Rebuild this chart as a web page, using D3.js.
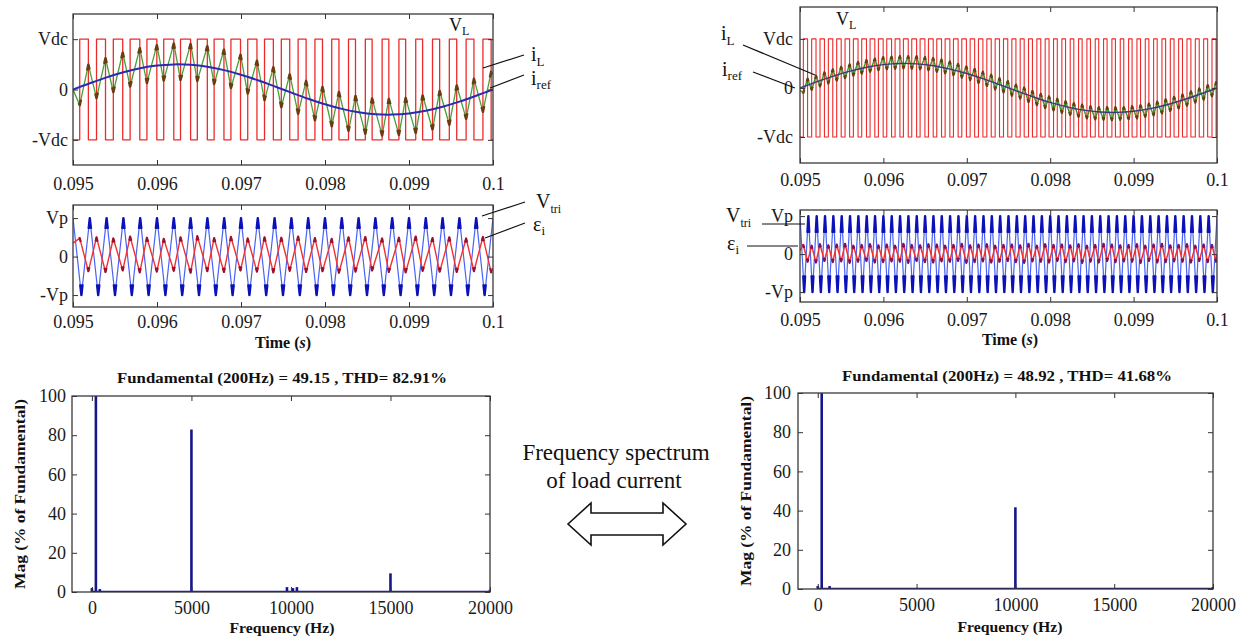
<!DOCTYPE html>
<html><head><meta charset="utf-8">
<script src="https://cdn.jsdelivr.net/npm/d3@7"></script>
<style>
body{margin:0;background:#fff;}
svg{display:block;}
</style></head><body>
<svg id="fig" width="1254" height="639"></svg>
<script>
// ---------------- data ----------------
const timeTicks=[0.095,0.096,0.097,0.098,0.099,0.1];
const timeTickLabels=["0.095","0.096","0.097","0.098","0.099","0.1"];
const vdcTicks=[1,0,-1];
const vdcTickLabels=["Vdc","0","-Vdc"];
const vpTicks=[1,0,-1];
const vpTickLabels=["Vp","0","-Vp"];
const freqTicks=[0,5000,10000,15000,20000];
const freqTickLabels=["0","5000","10000","15000","20000"];
const magTicks=[0,20,40,60,80,100];
const magTickLabels=["0","20","40","60","80","100"];
const vdcLevels=[-1,1];

const irefSamples=[[0.0950,0],[0.0952,0.124],[0.0954,0.241],[0.0956,0.342],[0.0958,0.422],[0.0960,0.476],[0.0962,0.499],[0.0964,0.491],[0.0966,0.453],[0.0968,0.385],[0.0970,0.294],[0.0972,0.184],[0.0974,0.063],[0.0976,-0.063],[0.0978,-0.184],[0.0980,-0.294],[0.0982,-0.385],[0.0984,-0.453],[0.0986,-0.491],[0.0988,-0.499],[0.0990,-0.476],[0.0992,-0.422],[0.0994,-0.342],[0.0996,-0.241],[0.0998,-0.124],[0.1000,0]];

const vLLeftRise=[0.09508,0.09528,0.09548,0.09568,0.09588,0.09608,0.09628,0.09648,0.09668,0.09688,0.09708,0.09728,0.09748,0.09768,0.09788,0.09808,0.09828,0.09848,0.09868,0.09888,0.09908,0.09928,0.09948,0.09968,0.09988];
const vLLeftFall=[0.095183,0.095387,0.095592,0.095795,0.095998,0.096200,0.096400,0.096599,0.096797,0.096994,0.097190,0.097385,0.097580,0.097775,0.097970,0.098166,0.098363,0.098561,0.098760,0.098960,0.099162,0.099365,0.099568,0.099773,0.099978];
const iLLeftLow=[-0.31,-0.17,-0.05,0.06,0.13,0.18,0.19,0.17,0.11,0.03,-0.08,-0.21,-0.35,-0.48,-0.61,-0.73,-0.82,-0.88,-0.91,-0.90,-0.86,-0.79,-0.70,-0.58,-0.44];
const iLLeftHigh=[0.49,0.62,0.73,0.82,0.88,0.91,0.90,0.86,0.79,0.69,0.57,0.44,0.30,0.17,0.05,-0.05,-0.13,-0.18,-0.19,-0.17,-0.12,-0.03,0.08,0.21,0.35];
const iLLeftEnds=[0.0,0.30];
const vtriLeft=[[0.0950,1],[0.0951,-1],[0.0952,1],[0.0953,-1],[0.0954,1],[0.0955,-1],[0.0956,1],[0.0957,-1],[0.0958,1],[0.0959,-1],
[0.0960,1],[0.0961,-1],[0.0962,1],[0.0963,-1],[0.0964,1],[0.0965,-1],[0.0966,1],[0.0967,-1],[0.0968,1],[0.0969,-1],
[0.0970,1],[0.0971,-1],[0.0972,1],[0.0973,-1],[0.0974,1],[0.0975,-1],[0.0976,1],[0.0977,-1],[0.0978,1],[0.0979,-1],
[0.0980,1],[0.0981,-1],[0.0982,1],[0.0983,-1],[0.0984,1],[0.0985,-1],[0.0986,1],[0.0987,-1],[0.0988,1],[0.0989,-1],
[0.0990,1],[0.0991,-1],[0.0992,1],[0.0993,-1],[0.0994,1],[0.0995,-1],[0.0996,1],[0.0997,-1],[0.0998,1],[0.0999,-1],[0.1000,1]];
const epsLeftPeak=[0.48,0.50,0.47,0.52,0.49,0.46,0.50,0.53,0.48,0.51,0.47,0.50,0.49,0.52,0.48,0.46,0.50,0.51,0.47,0.49,0.52,0.48,0.50,0.47,0.51];
const epsLeftTrough=[-0.38,-0.40,-0.36,-0.41,-0.39,-0.37,-0.42,-0.38,-0.40,-0.36,-0.39,-0.41,-0.37,-0.40,-0.38,-0.42,-0.39,-0.36,-0.40,-0.41,-0.37,-0.39,-0.40,-0.38,-0.41];
const epsLeftEnds=[0.35,-0.30];

const vLRightRise=[0.09504,0.09514,0.09524,0.09534,0.09544,0.09554,0.09564,0.09574,0.09584,0.09594,
0.09604,0.09614,0.09624,0.09634,0.09644,0.09654,0.09664,0.09674,0.09684,0.09694,
0.09704,0.09714,0.09724,0.09734,0.09744,0.09754,0.09764,0.09774,0.09784,0.09794,
0.09804,0.09814,0.09824,0.09834,0.09844,0.09854,0.09864,0.09874,0.09884,0.09894,
0.09904,0.09914,0.09924,0.09934,0.09944,0.09954,0.09964,0.09974,0.09984,0.09994];
const vLRightFall=[0.095091,0.095192,0.095293,0.095393,0.095494,0.095595,0.095696,0.095797,0.095897,0.095997,
0.096098,0.096198,0.096298,0.096398,0.096498,0.096597,0.096697,0.096797,0.096896,0.096995,
0.097094,0.097193,0.097293,0.097392,0.097491,0.097589,0.097688,0.097787,0.097887,0.097986,
0.098085,0.098184,0.098283,0.098383,0.098483,0.098582,0.098682,0.098782,0.098882,0.098982,
0.099083,0.099183,0.099283,0.099384,0.099485,0.099586,0.099687,0.099787,0.099888,0.099989];
const iLRightLow=[-0.10,-0.04,0.03,0.09,0.15,0.20,0.25,0.29,0.33,0.36,0.38,0.39,0.40,0.39,0.38,0.36,0.33,0.30,0.26,0.21,0.16,0.10,0.04,-0.03,-0.09,-0.16,-0.22,-0.29,-0.35,-0.41,-0.46,-0.51,-0.55,-0.59,-0.62,-0.64,-0.65,-0.66,-0.65,-0.64,-0.62,-0.59,-0.56,-0.52,-0.47,-0.42,-0.36,-0.30,-0.24,-0.17];
const iLRightHigh=[0.19,0.25,0.32,0.38,0.43,0.48,0.53,0.57,0.60,0.63,0.64,0.65,0.65,0.65,0.63,0.61,0.58,0.54,0.49,0.44,0.39,0.33,0.27,0.20,0.14,0.07,0.01,-0.06,-0.12,-0.17,-0.22,-0.27,-0.31,-0.34,-0.37,-0.39,-0.39,-0.39,-0.39,-0.37,-0.35,-0.32,-0.28,-0.23,-0.18,-0.13,-0.07,-0.01,0.06,0.12];
const iLRightEnds=[-0.05,0.10];
const vtriRight=[[0.09500,1],[0.09505,-1],[0.09510,1],[0.09515,-1],[0.09520,1],[0.09525,-1],[0.09530,1],[0.09535,-1],[0.09540,1],[0.09545,-1],
[0.09550,1],[0.09555,-1],[0.09560,1],[0.09565,-1],[0.09570,1],[0.09575,-1],[0.09580,1],[0.09585,-1],[0.09590,1],[0.09595,-1],
[0.09600,1],[0.09605,-1],[0.09610,1],[0.09615,-1],[0.09620,1],[0.09625,-1],[0.09630,1],[0.09635,-1],[0.09640,1],[0.09645,-1],
[0.09650,1],[0.09655,-1],[0.09660,1],[0.09665,-1],[0.09670,1],[0.09675,-1],[0.09680,1],[0.09685,-1],[0.09690,1],[0.09695,-1],
[0.09700,1],[0.09705,-1],[0.09710,1],[0.09715,-1],[0.09720,1],[0.09725,-1],[0.09730,1],[0.09735,-1],[0.09740,1],[0.09745,-1],
[0.09750,1],[0.09755,-1],[0.09760,1],[0.09765,-1],[0.09770,1],[0.09775,-1],[0.09780,1],[0.09785,-1],[0.09790,1],[0.09795,-1],
[0.09800,1],[0.09805,-1],[0.09810,1],[0.09815,-1],[0.09820,1],[0.09825,-1],[0.09830,1],[0.09835,-1],[0.09840,1],[0.09845,-1],
[0.09850,1],[0.09855,-1],[0.09860,1],[0.09865,-1],[0.09870,1],[0.09875,-1],[0.09880,1],[0.09885,-1],[0.09890,1],[0.09895,-1],
[0.09900,1],[0.09905,-1],[0.09910,1],[0.09915,-1],[0.09920,1],[0.09925,-1],[0.09930,1],[0.09935,-1],[0.09940,1],[0.09945,-1],
[0.09950,1],[0.09955,-1],[0.09960,1],[0.09965,-1],[0.09970,1],[0.09975,-1],[0.09980,1],[0.09985,-1],[0.09990,1],[0.09995,-1],[0.10000,1]];
const epsRightPeak=[0.24,0.22,0.26,0.23,0.25,0.27,0.22,0.24,0.26,0.23,0.25,0.22,0.27,0.24,0.23,0.26,0.25,0.22,0.24,0.27,0.23,0.25,0.26,0.22,0.24,0.25,0.23,0.27,0.22,0.26,0.24,0.25,0.23,0.26,0.22,0.24,0.27,0.25,0.23,0.24,0.26,0.22,0.25,0.27,0.23,0.24,0.26,0.22,0.25,0.24];
const epsRightTrough=[-0.20,-0.22,-0.18,-0.21,-0.19,-0.23,-0.20,-0.18,-0.22,-0.21,-0.19,-0.20,-0.23,-0.18,-0.21,-0.22,-0.19,-0.20,-0.18,-0.23,-0.21,-0.19,-0.22,-0.20,-0.18,-0.21,-0.23,-0.19,-0.20,-0.22,-0.18,-0.21,-0.19,-0.23,-0.20,-0.22,-0.18,-0.21,-0.19,-0.20,-0.23,-0.18,-0.22,-0.21,-0.19,-0.20,-0.22,-0.18,-0.21,-0.20];
const epsRightEnds=[0.10,0.0];

const specLeftFreq=[0,200,400,5000,9800,10100,10300,15000,20000];
const specLeftMag=[2,100,1.5,82.91,2.5,2,2.5,9.5,1.2];
const specRightFreq=[0,200,600,10000,20000];
const specRightMag=[1.5,100,1.5,41.68,1];
const titleLeft="Fundamental (200Hz) = 49.15 , THD= 82.91%";
const titleRight="Fundamental (200Hz) = 48.92 , THD= 41.68%";

// ---------------- drawing ----------------
const serif="Liberation Serif";
const svg=d3.select("#fig");
svg.append("rect").attr("width",1254).attr("height",639).attr("fill","#fff");
let clipN=0;
function panel(o){
  const x=d3.scaleLinear().domain(o.xDomain).range([o.x0,o.x1]);
  const y=d3.scaleLinear().domain(o.yDomain).range([o.y1,o.y0]);
  const id="clip"+(clipN++);
  svg.append("clipPath").attr("id",id).append("rect")
    .attr("x",o.x0).attr("y",o.y0).attr("width",o.x1-o.x0).attr("height",o.y1-o.y0);
  const g=svg.append("g");
  const plot=g.append("g").attr("clip-path",`url(#${id})`);
  return {o,x,y,g,plot};
}
function axes(p){
  const {o,x,y,g}=p;
  const ax=g.append("g");
  ax.append("g").attr("transform",`translate(0,${o.y1})`)
    .call(d3.axisBottom(x).tickValues(o.xTicks).tickFormat((d,i)=>o.xLabels[i]).tickSizeInner(-5).tickSizeOuter(0).tickPadding(o.xPad));
  ax.append("g").attr("transform",`translate(0,${o.y0})`)
    .call(d3.axisTop(x).tickValues(o.xTicks).tickFormat(()=>"").tickSizeInner(-5).tickSizeOuter(0));
  ax.append("g").attr("transform",`translate(${o.x0},0)`)
    .call(d3.axisLeft(y).tickValues(o.yTicks).tickFormat((d,i)=>o.yLabels[i]).tickSizeInner(-5).tickSizeOuter(0).tickPadding(o.yPad));
  ax.append("g").attr("transform",`translate(${o.x1},0)`)
    .call(d3.axisRight(y).tickValues(o.yTicks).tickFormat(()=>"").tickSizeInner(-5).tickSizeOuter(0));
  ax.selectAll(".domain").remove();
  ax.selectAll("g").attr("font-family",serif);
  ax.selectAll(".tick line").attr("stroke","#333").attr("stroke-width",1);
  ax.selectAll("text").attr("font-family",serif).attr("font-size",o.tickSize||18).attr("fill","#1a1a1a");
  g.append("rect").attr("x",o.x0).attr("y",o.y0).attr("width",o.x1-o.x0).attr("height",o.y1-o.y0)
    .attr("fill","none").attr("stroke","#3a3a3a").attr("stroke-width",1.3);
}
const lineOf=p=>d3.line().x(d=>p.x(d[0])).y(d=>p.y(d[1]));
function pwmPoints(rise,fall,t0,t1){
  const pts=[[t0,vdcLevels[0]]];
  rise.forEach((r,i)=>pts.push([r,vdcLevels[0]],[r,vdcLevels[1]],[fall[i],vdcLevels[1]],[fall[i],vdcLevels[0]]));
  pts.push([t1,vdcLevels[0]]);
  return pts;
}
function ripplePoints(rise,fall,atRise,atFall,ends,t0,t1){
  const pts=[[t0,ends[0]]];
  rise.forEach((r,i)=>pts.push([r,atRise[i]],[fall[i],atFall[i]]));
  pts.push([t1,ends[1]]);
  return pts;
}
function drawPath(p,pts,color,w){
  p.plot.append("path").datum(pts).attr("d",lineOf(p)).attr("fill","none")
    .attr("stroke",color).attr("stroke-width",w).attr("stroke-linejoin","round");
}
function vertexMarks(p,pts,frac,color,w){
  const segs=[];
  for(let i=1;i<pts.length-1;i++){
    const [t,v]=pts[i],[tp,vp]=pts[i-1],[tn,vn]=pts[i+1];
    segs.push([[t+(tp-t)*frac,v+(vp-v)*frac],[t,v],[t+(tn-t)*frac,v+(vn-v)*frac]]);
  }
  p.plot.selectAll(null).data(segs).join("path").attr("d",lineOf(p)).attr("fill","none")
    .attr("stroke",color).attr("stroke-width",w).attr("stroke-linejoin","round");
}
function label(x,y,main,sub,size,subSize,dy){
  const t=svg.append("text").attr("x",x).attr("y",y).attr("font-family",serif).attr("font-size",size).attr("fill","#111");
  t.append("tspan").text(main);
  t.append("tspan").attr("font-size",subSize).attr("dy",dy).text(sub);
}
function leader(x1,y1,x2,y2){
  svg.append("line").attr("x1",x1).attr("y1",y1).attr("x2",x2).attr("y2",y2).attr("stroke","#111").attr("stroke-width",1.2);
}
function textAt(x,y,s,size,weight,len,rot){
  const t=svg.append("text").attr("font-family",serif).attr("font-size",size).attr("font-weight",weight||"normal")
    .attr("text-anchor","middle").attr("fill","#111").text(s);
  if(rot){t.attr("transform",`translate(${x},${y}) rotate(-90)`);} else {t.attr("x",x).attr("y",y);}
  if(len){t.attr("textLength",len).attr("lengthAdjust","spacingAndGlyphs");}
  return t;
}

// ---- top-left ----
{
  const p=panel({x0:73,x1:493,y0:14,y1:165,xDomain:[0.095,0.1],yDomain:[-1.5,1.5],
    xTicks:timeTicks,xLabels:timeTickLabels,yTicks:vdcTicks,yLabels:vdcTickLabels,xPad:12,yPad:5});
  drawPath(p,pwmPoints(vLLeftRise,vLLeftFall,0.095,0.1),"#ee2b2b",1.3);
  const il=ripplePoints(vLLeftRise,vLLeftFall,iLLeftLow,iLLeftHigh,iLLeftEnds,0.095,0.1);
  drawPath(p,il,"#48a03a",1.3);
  vertexMarks(p,il,0.14,"#6b3c10",2.6);
  p.plot.append("path").datum(irefSamples).attr("d",lineOf(p).curve(d3.curveCatmullRom)).attr("fill","none")
    .attr("stroke","#2a2ab5").attr("stroke-width",2);
  axes(p);
}
// ---- middle-left ----
{
  const p=panel({x0:73,x1:493,y0:205,y1:307,xDomain:[0.095,0.1],yDomain:[-1.31,1.34],
    xTicks:timeTicks,xLabels:timeTickLabels,yTicks:vpTicks,yLabels:vpTickLabels,xPad:8,yPad:5});
  drawPath(p,vtriLeft,"#4a63f5",1.2);
  vertexMarks(p,vtriLeft,0.14,"#0c10b8",2.4);
  const ep=ripplePoints(vLLeftRise,vLLeftFall,epsLeftPeak,epsLeftTrough,epsLeftEnds,0.095,0.1);
  drawPath(p,ep,"#f23030",1.4);
  vertexMarks(p,ep,0.12,"#9a1030",2.2);
  axes(p);
}
// ---- top-right ----
{
  const p=panel({x0:800,x1:1217,y0:7,y1:163,xDomain:[0.095,0.1],yDomain:[-1.53,1.65],
    xTicks:timeTicks,xLabels:timeTickLabels,yTicks:vdcTicks,yLabels:vdcTickLabels,xPad:10,yPad:7});
  drawPath(p,pwmPoints(vLRightRise,vLRightFall,0.095,0.1),"#ee2b2b",1.1);
  const il=ripplePoints(vLRightRise,vLRightFall,iLRightLow,iLRightHigh,iLRightEnds,0.095,0.1);
  drawPath(p,il,"#3e9a30",1.5);
  vertexMarks(p,il,0.22,"#6b3c10",2.2);
  p.plot.append("path").datum(irefSamples).attr("d",lineOf(p).curve(d3.curveCatmullRom)).attr("fill","none")
    .attr("stroke","#3a3a7a").attr("stroke-width",1.4);
  axes(p);
}
// ---- middle-right ----
{
  const p=panel({x0:800,x1:1217,y0:210,y1:302,xDomain:[0.095,0.1],yDomain:[-1.26,1.16],
    xTicks:timeTicks,xLabels:timeTickLabels,yTicks:vpTicks,yLabels:vpTickLabels,xPad:11,yPad:7});
  drawPath(p,vtriRight,"#4a63f5",1.2);
  vertexMarks(p,vtriRight,0.22,"#0c10b8",2.4);
  const ep=ripplePoints(vLRightRise,vLRightFall,epsRightPeak,epsRightTrough,epsRightEnds,0.095,0.1);
  drawPath(p,ep,"#f23030",1.5);
  vertexMarks(p,ep,0.18,"#7a1060",2.2);
  axes(p);
}
// ---- spectra ----
function spectrum(o,freqs,mags){
  const p=panel(o);
  p.plot.append("line").attr("x1",p.x(0)).attr("x2",p.x(20000)).attr("y1",p.y(0)).attr("y2",p.y(0))
    .attr("stroke","#16168c").attr("stroke-width",2.5);
  p.plot.selectAll(null).data(freqs.map((f,i)=>[f,mags[i]])).join("line")
    .attr("x1",d=>p.x(d[0])).attr("x2",d=>p.x(d[0])).attr("y1",p.y(0)).attr("y2",d=>p.y(d[1]))
    .attr("stroke","#16168c").attr("stroke-width",2.6);
  axes(p);
  return p;
}
spectrum({x0:72,x1:490,y0:396,y1:592,xDomain:[-1000,20000],yDomain:[0,100],
  xTicks:freqTicks,xLabels:freqTickLabels,yTicks:magTicks,yLabels:magTickLabels,xPad:9,yPad:6},specLeftFreq,specLeftMag);
spectrum({x0:798,x1:1213,y0:393,y1:589,xDomain:[-1000,20000],yDomain:[0,100],
  xTicks:freqTicks,xLabels:freqTickLabels,yTicks:magTicks,yLabels:magTickLabels,xPad:9,yPad:7},specRightFreq,specRightMag);

// ---- titles and axis labels ----
textAt(282,383,titleLeft,15,"bold",330);
textAt(1007,381,titleRight,15,"bold",330);
textAt(20,494,"Mag (% of Fundamental)",15,"bold",190,true).attr("dy","0.35em");
textAt(746,491,"Mag (% of Fundamental)",15,"bold",190,true).attr("dy","0.35em");
textAt(282,633,"Frequency (Hz)",15,"bold",105);
textAt(1010,632,"Frequency (Hz)",15,"bold",105);
{
  const t1=svg.append("text").attr("x",283).attr("y",348).attr("text-anchor","middle").attr("font-family",serif).attr("font-size",16).attr("font-weight","bold").attr("fill","#111");
  t1.append("tspan").text("Time (");t1.append("tspan").attr("font-style","italic").text("s");t1.append("tspan").text(")");
  const t2=svg.append("text").attr("x",1010).attr("y",345).attr("text-anchor","middle").attr("font-family",serif).attr("font-size",16).attr("font-weight","bold").attr("fill","#111");
  t2.append("tspan").text("Time (");t2.append("tspan").attr("font-style","italic").text("s");t2.append("tspan").text(")");
}

// ---- signal labels ----
label(449,31,"V","L",18,12,4);
leader(483,68,524,55); label(531,61,"i","L",20,13,5);
leader(490,88,524,75); label(531,85,"i","ref",20,13,4);
leader(482,216,525,202); label(536,208,"V","tri",20,12,5);
leader(485,238,525,223); label(533,231,"ε","i",20,13,4);

label(836,25,"V","L",18,12,4);
leader(743,45,815,75); label(721,40,"i","L",20,13,5);
leader(753,72,795,88); label(722,76,"i","ref",20,13,4);
label(726,222,"V","tri",20,12,5); leader(762,224,805,224);
label(727,250,"ε","i",20,13,4); leader(747,246,798,246);

// ---- middle annotation ----
textAt(616,460,"Frequency spectrum",23,"normal");
textAt(614,488,"of load current",23,"normal");
svg.append("polygon")
  .attr("points","568,524 591,503 591,513 663,513 663,503 686,524 663,545 663,535 591,535 591,545")
  .attr("fill","#fff").attr("stroke","#111").attr("stroke-width",1.6).attr("stroke-linejoin","miter");
</script>
</body></html>
